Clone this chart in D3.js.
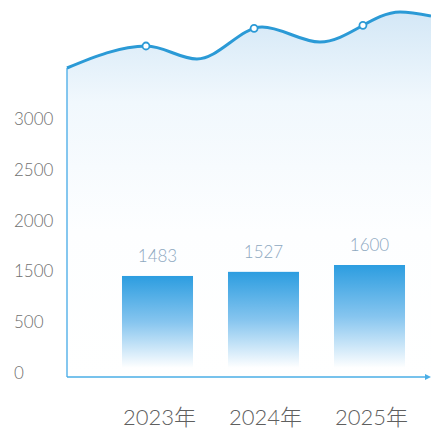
<!DOCTYPE html>
<html>
<head>
<meta charset="utf-8">
<script src="https://cdn.jsdelivr.net/npm/d3@7"></script>
<style>
  body { margin: 0; background: #fff; }
  text { font-family: "Lato", "Noto Sans CJK SC", sans-serif; font-weight: 300; }
</style>
</head>
<body>
<div id="chart"></div>
<script>
// data
var years = ["2023年", "2024年", "2025年"];
var values = [1483, 1527, 1600];
var tickLabels = ["0", "500", "1500", "2000", "2500", "3000"];

// decorative wave on top (x in 0-100, y in 0-100), turning points only
var waveX = [0, 21.9, 35.7, 53.6, 69.5, 91.5, 100];
var waveY = [15, 42.5, 26.25, 66.25, 47.5, 85, 80];
// where the round markers sit along the wave
var markerX = [21.7, 51.4, 81.3];

var svgWidth = 431;
var svgHeight = 430;

var left = 67;
var baseY = 377;

var svg = d3.select("#chart")
  .append("svg")
  .attr("width", svgWidth)
  .attr("height", svgHeight);

var defs = svg.append("defs");

var barGrad = defs.append("linearGradient")
  .attr("id", "barGrad")
  .attr("x1", 0).attr("y1", 0).attr("x2", 0).attr("y2", 1);
barGrad.append("stop").attr("offset", "0%").attr("stop-color", "#2c9de0");
barGrad.append("stop").attr("offset", "50%").attr("stop-color", "#86c5ef");
barGrad.append("stop").attr("offset", "100%").attr("stop-color", "#ffffff");

var areaGrad = defs.append("linearGradient")
  .attr("id", "areaGrad")
  .attr("gradientUnits", "userSpaceOnUse")
  .attr("x1", 0).attr("y1", 10).attr("x2", 0).attr("y2", 380);
areaGrad.append("stop").attr("offset", "0%").attr("stop-color", "#d3e7f6");
areaGrad.append("stop").attr("offset", "25%").attr("stop-color", "#f1f8fd");
areaGrad.append("stop").attr("offset", "60%").attr("stop-color", "#fdfeff");
areaGrad.append("stop").attr("offset", "100%").attr("stop-color", "#ffffff");

// scales
var waveXScale = d3.scaleLinear().domain([0, 100]).range([left, svgWidth]);
var waveYScale = d3.scaleLinear().domain([0, 100]).range([80, 0]);

var xBand = d3.scaleBand()
  .domain(years)
  .range([104.5, 422.5])
  .paddingInner(0.33)
  .paddingOuter(0.165);

var yBar = d3.scaleLinear().domain([0, 1600]).range([415, 265]);

var yTick = d3.scalePoint()
  .domain(tickLabels)
  .range([373, 119]);

var wave = waveX.map(function(d, i) { return [d, waveY[i]]; });

// area under wave
var area = d3.area()
  .x(d => waveXScale(d[0]))
  .y0(baseY)
  .y1(d => waveYScale(d[1]))
  .curve(d3.curveMonotoneX);

svg.append("path")
  .datum(wave)
  .attr("d", area)
  .attr("fill", "url(#areaGrad)");

// bars
svg.selectAll(".bar")
  .data(values)
  .enter()
  .append("rect")
  .attr("class", "bar")
  .attr("x", (d, i) => xBand(years[i]))
  .attr("y", d => yBar(d))
  .attr("width", xBand.bandwidth())
  .attr("height", d => 368 - yBar(d))
  .attr("fill", "url(#barGrad)");

// value labels
svg.selectAll(".val")
  .data(values)
  .enter()
  .append("text")
  .attr("class", "val")
  .attr("x", (d, i) => xBand(years[i]) + xBand.bandwidth() / 2)
  .attr("y", d => yBar(d) - 14)
  .attr("text-anchor", "middle")
  .attr("font-size", 17)
  .attr("fill", "#8da8bf")
  .text(d => d);

// axes lines
svg.append("line")
  .attr("x1", left).attr("x2", left)
  .attr("y1", waveYScale(waveY[0])).attr("y2", baseY)
  .attr("stroke", "#5db5ea").attr("stroke-width", 1.5);

svg.append("line")
  .attr("x1", left).attr("x2", 428)
  .attr("y1", baseY).attr("y2", baseY)
  .attr("stroke", "#4aaee6").attr("stroke-width", 1.5);

svg.append("path")
  .attr("d", `M425,${baseY - 3}L431,${baseY}L425,${baseY + 3}Z`)
  .attr("fill", "#4aaee6");

// wave line
var line = d3.line()
  .x(d => waveXScale(d[0]))
  .y(d => waveYScale(d[1]))
  .curve(d3.curveMonotoneX);

var wavePath = svg.append("path")
  .datum(wave)
  .attr("d", line)
  .attr("fill", "none")
  .attr("stroke", "#2b9ad6")
  .attr("stroke-width", 3);

// find the point on the wave for a given x
function pointAtX(px) {
  var node = wavePath.node();
  var lo = 0, hi = node.getTotalLength(), p;
  for (var k = 0; k < 30; k++) {
    var mid = (lo + hi) / 2;
    p = node.getPointAtLength(mid);
    if (p.x < px) lo = mid; else hi = mid;
  }
  return p;
}

svg.selectAll(".marker")
  .data(markerX)
  .enter()
  .append("circle")
  .each(function(d) {
    var p = pointAtX(waveXScale(d));
    d3.select(this).attr("cx", p.x).attr("cy", p.y);
  })
  .attr("r", 3.5)
  .attr("fill", "#fff")
  .attr("stroke", "#2b9ad6")
  .attr("stroke-width", 1.8);

// y tick labels
svg.selectAll(".ytick")
  .data(tickLabels)
  .enter()
  .append("text")
  .attr("class", "ytick")
  .attr("x", 14)
  .attr("y", d => yTick(d))
  .attr("dy", "0.35em")
  .attr("font-size", 17)
  .attr("fill", "#6f6f6f")
  .text(d => d);

// x labels
svg.selectAll(".xlab")
  .data(years)
  .enter()
  .append("text")
  .attr("class", "xlab")
  .attr("x", d => xBand(d) + xBand.bandwidth() / 2 + 2)
  .attr("y", 425)
  .attr("text-anchor", "middle")
  .attr("font-size", 22)
  .attr("fill", "#5f5f5f")
  .text(d => d);
</script>
</body>
</html>
